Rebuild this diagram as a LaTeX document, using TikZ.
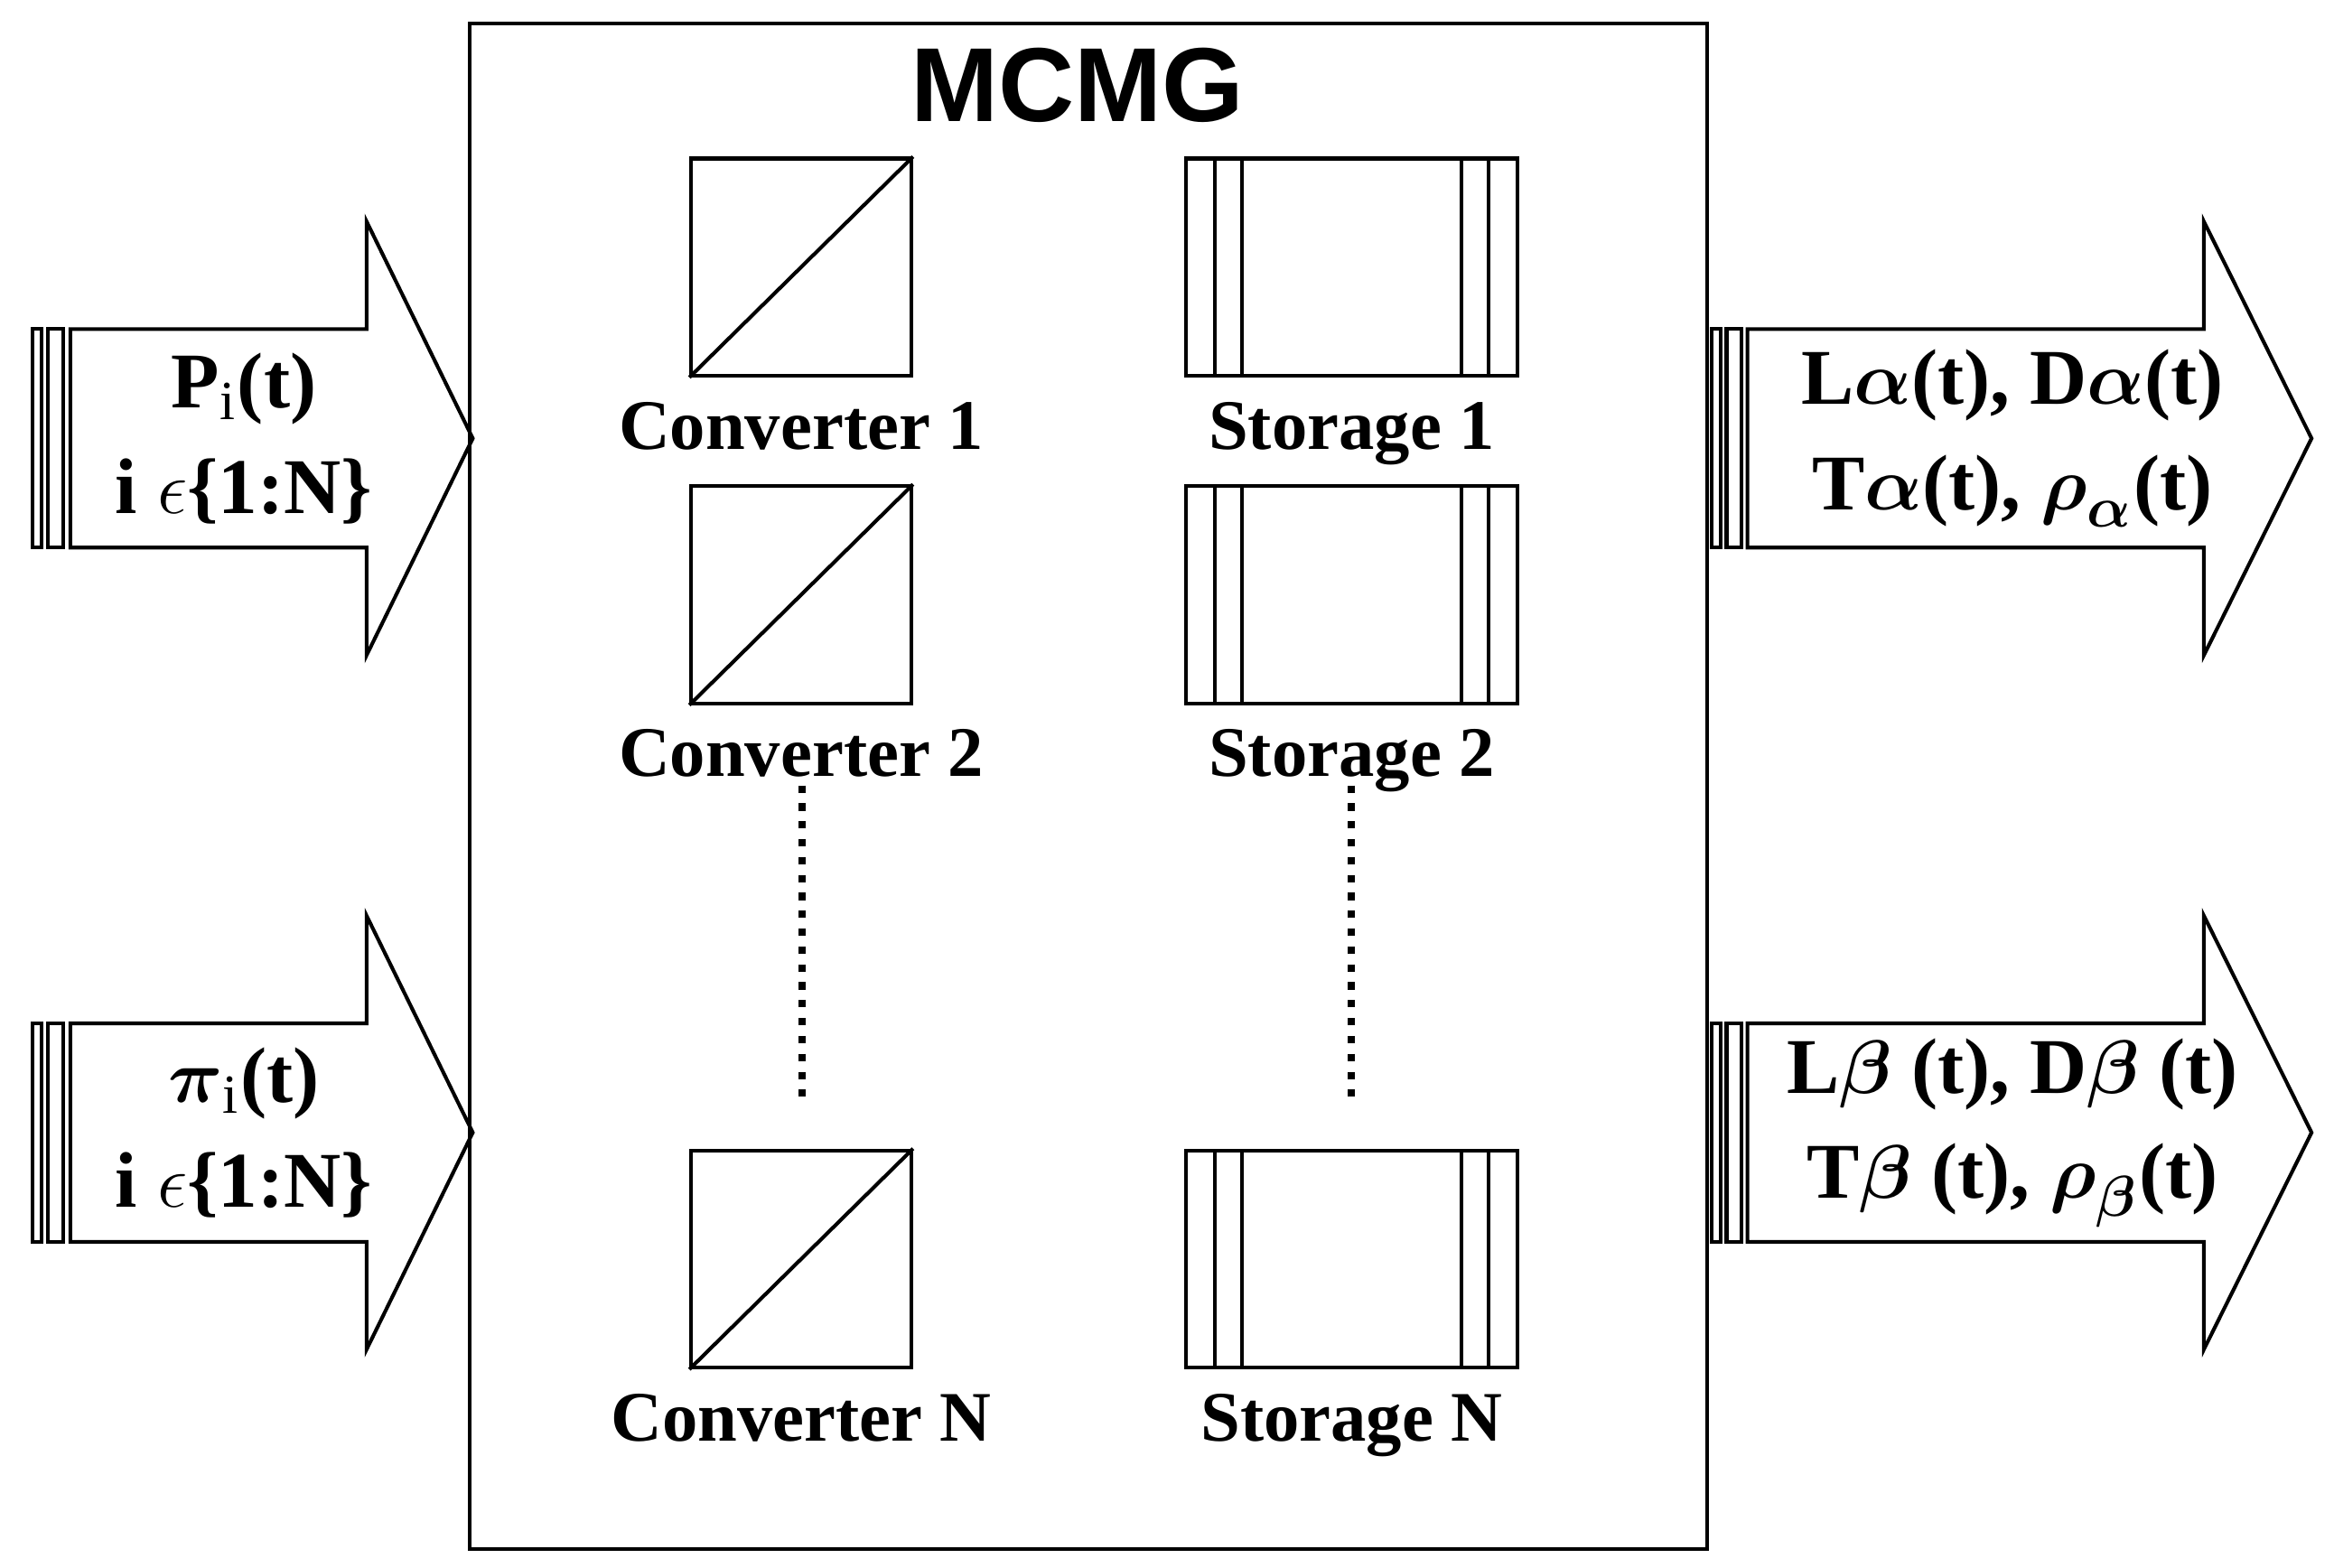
\documentclass[tikz,border=0pt]{standalone}
\usepackage{amsmath}
\usepackage{fontspec}
\setmainfont{Liberation Serif}
\newfontfamily\headfont{Liberation Sans}
\usetikzlibrary{arrows.meta}

\begin{document}
\begin{tikzpicture}
    [x=0.01cm, y=-0.01cm, line width=0.7pt,
    conv/.style={draw, minimum width=1.47cm, minimum height=1.45cm, inner sep=0pt},
    stor/.style={draw, minimum width=2.21cm, minimum height=1.45cm, inner sep=0pt},
    lbl/.style={font=\bfseries\fontsize{13.5}{16}\selectfont},
    atxt/.style={font=\bfseries\fontsize{15}{20}\selectfont, align=center}]
    \useasboundingbox (0,0) rectangle (1560,1048);
    \node[draw, minimum width=8.27cm, minimum height=10.19cm, inner sep=0pt] (mcmg) at (727.5,525.5) {};
    \node[font=\headfont\bfseries\fontsize{20}{24}\selectfont] (title) at (720,57) {MCMG};
    % big arrows
    \foreach \y/\n in {293/in1, 757/in2} {
        \draw (47,\y-73) -- (245,\y-73) -- (245,\y-145) -- (316,\y) -- (245,\y+145) -- (245,\y+73) -- (47,\y+73) -- cycle;
        \draw (22,\y-73) rectangle (28,\y+73);
        \draw (32,\y-73) rectangle (42,\y+73);
        \coordinate (\n) at (163,\y);
    }
    \foreach \y/\n in {293/out1, 757/out2} {
        \draw (1168,\y-73) -- (1473,\y-73) -- (1473,\y-145) -- (1545,\y) -- (1473,\y+145) -- (1473,\y+73) -- (1168,\y+73) -- cycle;
        \draw (1144,\y-73) rectangle (1150,\y+73);
        \draw (1154,\y-73) rectangle (1164,\y+73);
        \coordinate (\n) at (1345,\y);
    }
    \node[atxt] (tin1) at (in1) {P$_{\mathrm{i}}$(t)\\i $\epsilon$\{1:N\}};
    \node[atxt] (tin2) at (in2) {$\boldsymbol{\pi}_{\mathrm{i}}$(t)\\i $\epsilon$\{1:N\}};
    \node[atxt] (tout1) at (out1) {L$\boldsymbol{\alpha}$(t), D$\boldsymbol{\alpha}$(t)\\T$\boldsymbol{\alpha}$(t), $\boldsymbol{\rho}_{\boldsymbol{\alpha}}$(t)};
    \node[atxt] (tout2) at (out2) {L$\boldsymbol{\beta}$ (t), D$\boldsymbol{\beta}$ (t)\\T$\boldsymbol{\beta}$ (t), $\boldsymbol{\rho}_{\boldsymbol{\beta}}$(t)};
    % converters and storages
    \foreach \y/\k in {178.5/1, 397.5/2, 841.5/N} {
        \node[conv] (c\k) at (535.5,\y) {};
        \draw (c\k.south west) -- (c\k.north east);
        \node[lbl, below=1pt] (cl\k) at (c\k.south) {Converter \k};
        \node[stor] (s\k) at (903.5,\y) {};
        \foreach \x in {812, 830, 977, 995} \draw (\x,\y-72.5) -- (\x,\y+72.5);
        \node[lbl, below=1pt] (sl\k) at (s\k.south) {Storage \k};
    }
    \coordinate (ca) at (536,525); \coordinate (cb) at (536,740);
    \coordinate (sa) at (903,525); \coordinate (sb) at (903,740);
    \draw[dotted, line width=1.4pt] (ca) -- (cb);
    \draw[dotted, line width=1.4pt] (sa) -- (sb);
\end{tikzpicture}
\end{document}
